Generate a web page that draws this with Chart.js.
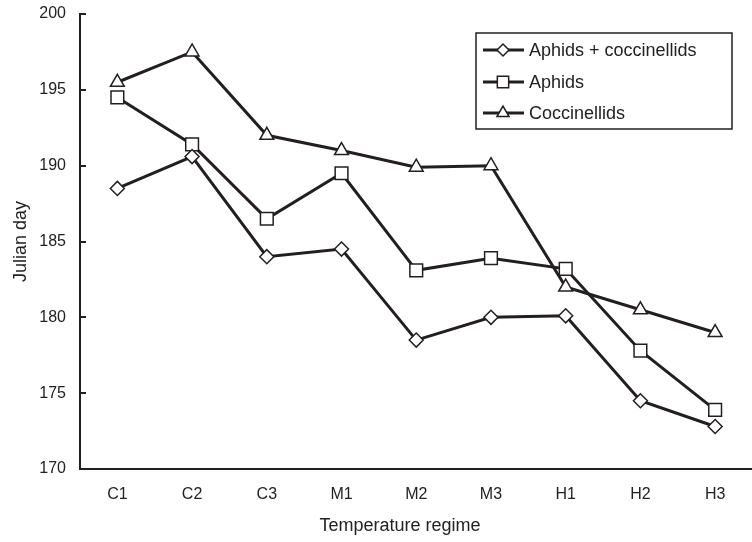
<!DOCTYPE html>
<html>
<head>
<meta charset="utf-8">
<script src="https://cdn.jsdelivr.net/npm/chart.js@4.4.1/dist/chart.umd.min.js"></script>
<style>
  html, body { margin: 0; padding: 0; background: #fff; overflow: hidden; }
  #wrap { width: 752px; height: 542px; overflow: hidden; }
  #box { width: 763px; height: 542px; }
</style>
</head>
<body>
<div id="wrap"><div id="box"><canvas id="chart"></canvas></div></div>
<script>
// Values
const regimes = ["C1", "C2", "C3", "M1", "M2", "M3", "H1", "H2", "H3"]
const aphidsCoccinellids = [188.5, 190.6, 184.0, 184.5, 178.5, 180.0, 180.1, 174.5, 172.8]
const aphids = [194.5, 191.4, 186.5, 189.5, 183.1, 183.9, 183.2, 177.8, 173.9]
const coccinellids = [195.5, 197.5, 192.0, 191.0, 189.9, 190.0, 182.0, 180.5, 179.0]
const yTicks = [170, 175, 180, 185, 190, 195, 200]

const ink = "#231f20"
const textColor = "#222"
const font = "'Liberation Sans', Arial, sans-serif"

const series = [
  { label: "Aphids + coccinellids", data: aphidsCoccinellids, pointStyle: "rectRot", pointRadius: 7 },
  { label: "Aphids", data: aphids, pointStyle: "rect", pointRadius: 9 },
  { label: "Coccinellids", data: coccinellids, pointStyle: "triangle", pointRadius: 8 }
]

// inward tick marks on the y axis, x title, boxed legend with line + marker
const decorations = {
  id: "decorations",
  afterDraw (chart) {
    const { ctx, chartArea, scales } = chart
    ctx.save()
    ctx.strokeStyle = ink
    ctx.lineWidth = 2
    yTicks.forEach(v => {
      const y = Math.round(scales.y.getPixelForValue(v))
      ctx.beginPath()
      ctx.moveTo(chartArea.left, y)
      ctx.lineTo(chartArea.left + 6, y)
      ctx.stroke()
    })

    ctx.fillStyle = textColor
    ctx.font = `18px ${font}`
    ctx.textAlign = "center"
    ctx.textBaseline = "middle"
    ctx.fillText("Temperature regime", 400, 526)

    // legend
    const lx = 476, ly = 33, lw = 256, lh = 96
    ctx.lineWidth = 1.5
    ctx.strokeRect(lx, ly, lw, lh)
    const rows = [50, 82, 113]
    chart.data.datasets.forEach((ds, i) => {
      const y = rows[i]
      ctx.lineWidth = 3
      ctx.strokeStyle = ink
      ctx.beginPath()
      ctx.moveTo(483, y)
      ctx.lineTo(524, y)
      ctx.stroke()
      ctx.fillStyle = "#fff"
      ctx.lineWidth = 1.5
      Chart.helpers.drawPoint(ctx, {
        pointStyle: ds.pointStyle,
        radius: ds.pointRadius - 1,
        borderWidth: 1.5,
        rotation: 0
      }, 503, y)
      ctx.fillStyle = textColor
      ctx.font = `18px ${font}`
      ctx.textAlign = "left"
      ctx.fillText(ds.label, 529, y + 1)
    })
    ctx.restore()
  }
}

new Chart(document.getElementById("chart"), {
  type: "line",
  data: {
    labels: regimes,
    datasets: series.map(s => ({
      label: s.label,
      data: s.data,
      borderColor: ink,
      borderWidth: 3,
      pointStyle: s.pointStyle,
      pointRadius: s.pointRadius,
      pointHoverRadius: s.pointRadius,
      pointBackgroundColor: "#fff",
      pointBorderColor: ink,
      pointBorderWidth: 1.5,
      tension: 0
    }))
  },
  options: {
    responsive: true,
    maintainAspectRatio: false,
    animation: false,
    layout: { padding: { top: 14, left: 0, right: 0, bottom: 0 } },
    plugins: {
      legend: { display: false },
      tooltip: { enabled: false }
    },
    scales: {
      x: {
        offset: true,
        grid: { display: false, drawTicks: false },
        border: { color: ink, width: 2 },
        ticks: { color: textColor, font: { family: font, size: 16 }, padding: 16 },
        afterFit: scale => {
          scale.height = 73
          scale.paddingLeft = 0
          scale.paddingRight = 0
        }
      },
      y: {
        min: 170,
        max: 200,
        grid: { display: false, drawTicks: false },
        border: { color: ink, width: 2 },
        ticks: {
          color: textColor,
          font: { family: font, size: 16 },
          padding: 14,
          stepSize: 5,
          callback: v => yTicks.includes(v) ? String(v) : ""
        },
        title: {
          display: true,
          text: "Julian day",
          color: textColor,
          font: { family: font, size: 18 },
          padding: { top: 10, bottom: 0 }
        },
        afterFit: scale => {
          scale.width = 80
          scale.paddingTop = 0
          scale.paddingBottom = 0
        }
      }
    }
  },
  plugins: [decorations]
})
</script>
</body>
</html>
